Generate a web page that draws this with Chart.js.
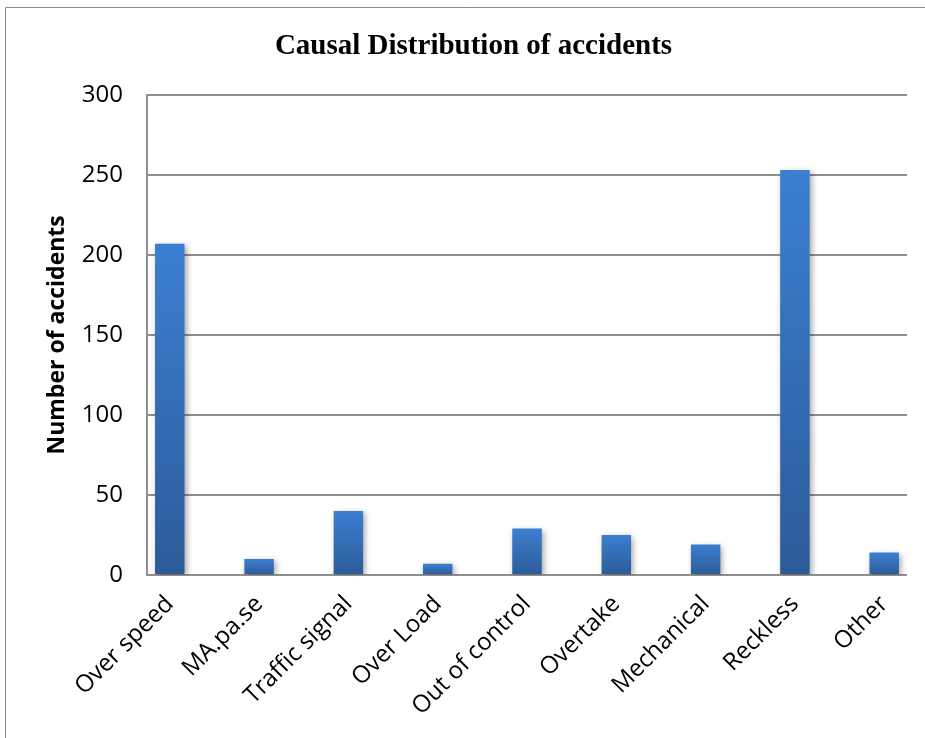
<!DOCTYPE html>
<html>
<head>
<meta charset="utf-8">
<title>Causal Distribution of accidents</title>
<script src="https://cdn.jsdelivr.net/npm/chart.js@4.4.0/dist/chart.umd.min.js"></script>
<style>
  html, body { margin: 0; padding: 0; background: #fff; }
  #wrap { width: 925px; height: 738px; }
</style>
</head>
<body>
<div id="wrap"><canvas id="accidentChart" width="925" height="738"></canvas></div>
<script>
const categories = ['Over speed', 'MA.pa.se', 'Traffic signal', 'Over Load', 'Out of control',
  'Overtake', 'Mechanical', 'Reckless', 'Other'];
const accidents = [207, 10, 40, 7, 29, 25, 19, 253, 14];
const yMin = 0;
const yMax = 300;
const yStep = 50;

// excel-ish vertical gradient, computed per bar
function barGradient(ctx) {
  const chart = ctx.chart;
  const y = chart.scales.y;
  if (!chart.chartArea || !y || ctx.raw === undefined) return '#3578c8';
  const v = typeof ctx.raw === 'object' ? ctx.raw.y : ctx.raw;
  const top = y.getPixelForValue(v);
  const bottom = y.getPixelForValue(0);
  const g = chart.ctx.createLinearGradient(0, top, 0, bottom);
  g.addColorStop(0, '#3b7fd2');
  g.addColorStop(1, '#2c5b98');
  return g;
}

const barShadow = {
  id: 'barShadow',
  beforeDatasetsDraw(chart) {
    const c = chart.ctx;
    c.save();
    c.shadowColor = 'rgba(0,0,0,0.35)';
    c.shadowBlur = 6;
    c.shadowOffsetX = 2;
    c.shadowOffsetY = 2;
  },
  afterDatasetsDraw(chart) {
    chart.ctx.restore();
  }
};

const frame = {
  id: 'frame',
  beforeDraw(chart) {
    const c = chart.ctx;
    c.save();
    c.fillStyle = '#fff';
    c.fillRect(0, 0, chart.width, chart.height);
    c.strokeStyle = '#8a8a8a';
    c.lineWidth = 1;
    c.beginPath();
    c.moveTo(5.5, chart.height);
    c.lineTo(5.5, 7.5);
    c.lineTo(chart.width, 7.5);
    c.stroke();
    c.restore();
  }
};

const config = {
  type: 'bar',
  data: {
    datasets: [{
      label: 'Number of accidents',
      data: accidents.map((v, i) => ({ x: i, y: v })),
      backgroundColor: barGradient,
      borderWidth: 0,
      barPercentage: 0.66,
      categoryPercentage: 0.5
    }]
  },
  options: {
    responsive: false,
    animation: false,
    devicePixelRatio: 1,
    layout: { padding: { left: 40, right: 18, top: 10, bottom: 0 } },
    plugins: {
      legend: { display: false },
      tooltip: { enabled: false },
      title: {
        display: true,
        text: 'Causal Distribution of accidents',
        color: '#000',
        font: { family: "'Liberation Serif', 'Times New Roman', serif", size: 29, weight: 'bold' },
        padding: { top: 19, bottom: 31 }
      }
    },
    scales: {
      x: {
        type: 'linear',
        offset: false,
        min: -0.255,
        max: categories.length - 1 + 0.255,
        afterBuildTicks(scale) {
          scale.ticks = categories.map((_, i) => ({ value: i }));
        },
        afterFit(scale) { scale.height = 738 - 575; },
        grid: { display: false, drawTicks: false, offset: false },
        border: { display: false },
        ticks: {
          autoSkip: false,
          maxRotation: 45,
          minRotation: 45,
          padding: 15,
          color: '#000',
          font: { family: "'Open Sans', sans-serif", size: 24 },
          callback: (v) => categories[v] !== undefined ? categories[v] : ''
        }
      },
      y: {
        min: yMin,
        max: yMax,
        afterFit(scale) { scale.width = 147 - 40; },
        grid: { color: '#8f8f8f', lineWidth: 2, drawTicks: false },
        border: { display: true, color: '#8f8f8f', width: 2 },
        ticks: {
          stepSize: yStep,
          padding: 24,
          color: '#000',
          font: { family: "'Open Sans', sans-serif", size: 24 }
        },
        title: {
          display: true,
          text: 'Number of accidents',
          color: '#000',
          font: { family: "'Open Sans', sans-serif", size: 23, weight: 'bold' }
        }
      }
    }
  },
  plugins: [frame, barShadow]
};

const accidentChart = new Chart(document.getElementById('accidentChart'), config);
</script>
</body>
</html>
